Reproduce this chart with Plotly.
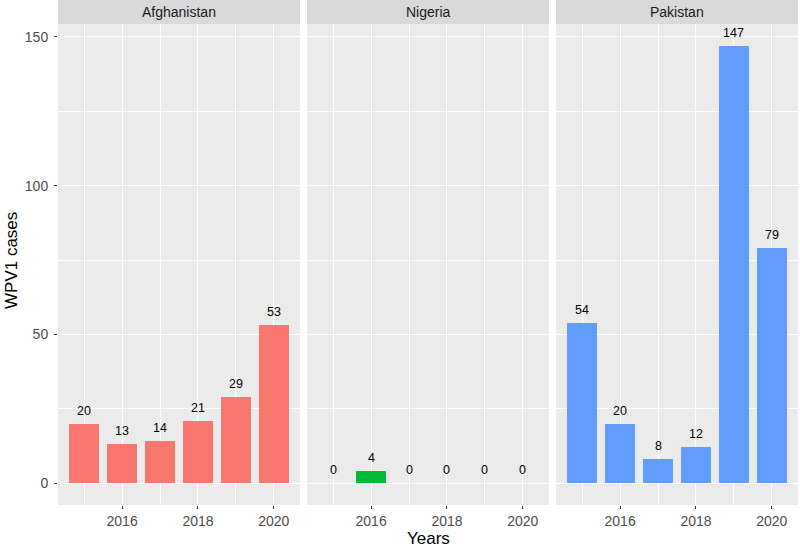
import plotly.graph_objects as go

years = [2015, 2016, 2017, 2018, 2019, 2020]
countries = ["Afghanistan", "Nigeria", "Pakistan"]
afghanistan = [20, 13, 14, 21, 29, 53]
nigeria = [0, 4, 0, 0, 0, 0]
pakistan = [54, 20, 8, 12, 147, 79]
colors = ["#F8766D", "#00BA38", "#619CFF"]
y_ticks = [0, 50, 100, 150]
x_ticks = [2016, 2018, 2020]

series = [afghanistan, nigeria, pakistan]

W, H = 800, 551
panels_px = [(58, 300), (307, 549), (556, 798)]
y_top_px, y_bot_px = 24, 505
ydom = [1 - y_bot_px / H, 1 - y_top_px / H]

fig = go.Figure()
font_family = "Liberation Sans, Arial, sans-serif"

for i, (name, vals, col) in enumerate(zip(countries, series, colors)):
    ax = "" if i == 0 else str(i + 1)
    fig.add_trace(go.Bar(x=years, y=vals, width=0.8, marker=dict(color=col, line=dict(width=0)),
                         xaxis="x" + ax, yaxis="y" + ax, showlegend=False, hoverinfo="x+y"))
    for yr, v in zip(years, vals):
        fig.add_annotation(x=yr, y=v, xref="x" + ax, yref="y" + ax, text=str(v), showarrow=False,
                           xanchor="center", yanchor="middle", yshift=13,
                           font=dict(size=12.5, color="#000000", family=font_family))
    x0, x1 = panels_px[i]
    xdom = [x0 / W, x1 / W]
    xa = dict(domain=xdom, range=[2014.31, 2020.69], tickvals=x_ticks, ticktext=[str(t) for t in x_ticks],
              showgrid=True, gridcolor="#FFFFFF", gridwidth=1.1, zeroline=False,
              ticks="outside", ticklen=3, tickcolor="#333333", tickwidth=1, ticklabelstandoff=0,
              tickfont=dict(size=14, color="#4D4D4D", family=font_family),
              minor=dict(tickvals=[2015, 2017, 2019], showgrid=True, gridcolor="#FFFFFF", gridwidth=0.55, ticks=""),
              showline=False, anchor="y" + ax, fixedrange=True, automargin=False)
    ya = dict(domain=ydom, range=[-7.35, 154.35], tickvals=y_ticks,
              showgrid=True, gridcolor="#FFFFFF", gridwidth=1.1, zeroline=False,
              minor=dict(tickvals=[25, 75, 125], showgrid=True, gridcolor="#FFFFFF", gridwidth=0.55, ticks=""),
              anchor="x" + ax, fixedrange=True, showline=False, automargin=False)
    if i == 0:
        ya.update(ticks="outside", ticklen=3, tickcolor="#333333", tickwidth=1, ticklabelstandoff=3,
                  tickfont=dict(size=14, color="#4D4D4D", family=font_family))
    else:
        ya.update(showticklabels=False, ticks="")
    fig.update_layout(**{"xaxis" + ax: xa, "yaxis" + ax: ya})
    # panel background
    fig.add_shape(type="rect", xref="paper", yref="paper", x0=xdom[0], x1=xdom[1], y0=ydom[0], y1=ydom[1],
                  fillcolor="#EBEBEB", line=dict(width=0), layer="below")
    # strip
    fig.add_shape(type="rect", xref="paper", yref="paper", x0=xdom[0], x1=xdom[1], y0=ydom[1], y1=1,
                  fillcolor="#D9D9D9", line=dict(width=0), layer="below")
    fig.add_annotation(text=name, xref="paper", yref="paper", x=(xdom[0] + xdom[1]) / 2,
                       y=(ydom[1] + 1) / 2, showarrow=False, xanchor="center", yanchor="middle",
                       font=dict(size=14, color="#1A1A1A", family=font_family))

fig.add_annotation(text="Years", xref="paper", yref="paper", x=(58 + 798) / 2 / W, y=1 - 538 / H,
                   showarrow=False, xanchor="center", yanchor="middle",
                   font=dict(size=17, color="#000000", family=font_family))
fig.add_annotation(text="WPV1 cases", xref="paper", yref="paper", x=12 / W, y=1 - 261 / H,
                   showarrow=False, xanchor="center", yanchor="middle", textangle=-90,
                   font=dict(size=17, color="#000000", family=font_family))

fig.update_layout(width=W, height=H, margin=dict(l=0, r=0, t=0, b=0, autoexpand=False),
                  paper_bgcolor="#FFFFFF", plot_bgcolor="rgba(0,0,0,0)", bargap=0,
                  font=dict(family=font_family))
fig.write_html("out.html", config={"displayModeBar": False},
               post_script="document.body.style.margin='0px';document.body.style.overflow='hidden';")
